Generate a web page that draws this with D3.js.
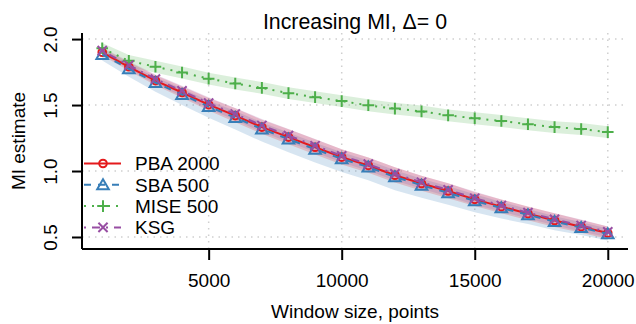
<!DOCTYPE html>
<html>
<head>
<meta charset="utf-8">
<script src="https://cdn.jsdelivr.net/npm/d3@7"></script>
<style>
  body { margin: 0; background: #fff; }
  svg { display: block; font-family: "Liberation Sans", Arial, sans-serif; }
</style>
</head>
<body>
<div id="chart"></div>
<script>
// window sizes (points)
const windowSizes = [1000, 2000, 3000, 4000, 5000, 6000, 7000, 8000, 9000, 10000,
  11000, 12000, 13000, 14000, 15000, 16000, 17000, 18000, 19000, 20000];

// mean MI estimates
const pba2000 = [1.90, 1.79, 1.685, 1.595, 1.503, 1.42, 1.333, 1.257, 1.18, 1.105,
  1.042, 0.968, 0.905, 0.848, 0.785, 0.73, 0.677, 0.625, 0.578, 0.53];
const sba500 = [1.882, 1.775, 1.67, 1.58, 1.488, 1.405, 1.318, 1.242, 1.165, 1.092,
  1.03, 0.955, 0.892, 0.835, 0.773, 0.72, 0.668, 0.617, 0.571, 0.524];
const mise500 = [1.93, 1.835, 1.79, 1.747, 1.70, 1.663, 1.63, 1.59, 1.56, 1.53,
  1.498, 1.473, 1.452, 1.422, 1.40, 1.379, 1.354, 1.333, 1.318, 1.295];
const ksg = [1.912, 1.802, 1.697, 1.607, 1.515, 1.432, 1.345, 1.269, 1.192, 1.115,
  1.052, 0.978, 0.915, 0.857, 0.794, 0.739, 0.685, 0.634, 0.587, 0.539];

// band extent below / above each mean
const pbaBandLow = [0.025, 0.03, 0.035, 0.04, 0.045, 0.05, 0.05, 0.055, 0.055, 0.055,
  0.055, 0.055, 0.055, 0.055, 0.05, 0.05, 0.05, 0.05, 0.045, 0.045];
const pbaBandHigh = [0.03, 0.035, 0.04, 0.045, 0.05, 0.055, 0.055, 0.06, 0.06, 0.06,
  0.06, 0.06, 0.06, 0.06, 0.055, 0.055, 0.055, 0.055, 0.05, 0.05];
const sbaBandLow = [0.045, 0.06, 0.07, 0.08, 0.085, 0.09, 0.095, 0.1, 0.1, 0.1,
  0.1, 0.1, 0.095, 0.09, 0.085, 0.08, 0.07, 0.065, 0.055, 0.05];
const sbaBandHigh = [0.03, 0.035, 0.04, 0.045, 0.045, 0.05, 0.05, 0.05, 0.05, 0.05,
  0.05, 0.05, 0.05, 0.05, 0.05, 0.045, 0.045, 0.04, 0.04, 0.04];
const miseBandLow = [0.04, 0.045, 0.045, 0.045, 0.045, 0.045, 0.045, 0.045, 0.045, 0.045,
  0.045, 0.045, 0.045, 0.045, 0.045, 0.045, 0.045, 0.045, 0.045, 0.045];
const miseBandHigh = [0.04, 0.045, 0.045, 0.045, 0.045, 0.045, 0.045, 0.045, 0.045, 0.045,
  0.045, 0.045, 0.045, 0.045, 0.045, 0.045, 0.045, 0.045, 0.045, 0.045];
const ksgBandLow = [0.025, 0.03, 0.035, 0.04, 0.045, 0.045, 0.05, 0.05, 0.05, 0.05,
  0.05, 0.05, 0.05, 0.05, 0.05, 0.045, 0.045, 0.045, 0.045, 0.04];
const ksgBandHigh = [0.025, 0.03, 0.035, 0.04, 0.045, 0.045, 0.05, 0.05, 0.05, 0.05,
  0.05, 0.05, 0.05, 0.05, 0.05, 0.045, 0.045, 0.045, 0.045, 0.04];

const xTicks = [5000, 10000, 15000, 20000];
const yTicks = [0.5, 1.0, 1.5, 2.0];

const series = [
  { name: 'PBA 2000', values: pba2000, lo: pbaBandLow, hi: pbaBandHigh, color: '#E41A1C', dash: null, shape: 'circle' },
  { name: 'SBA 500', values: sba500, lo: sbaBandLow, hi: sbaBandHigh, color: '#377EB8', dash: '7,7', shape: 'triangle' },
  { name: 'MISE 500', values: mise500, lo: miseBandLow, hi: miseBandHigh, color: '#4DAF4A', dash: '2,6', shape: 'plus' },
  { name: 'KSG', values: ksg, lo: ksgBandLow, hi: ksgBandHigh, color: '#984EA3', dash: '2,6,8,6', shape: 'cross' }
];

const width = 636;
const height = 324;
const plotLeft = 82, plotRight = 628, plotTop = 33, plotBottom = 249;
const fontSize = '19px';

const x = d3.scaleLinear().domain([240, 20760]).range([plotLeft, plotRight]);
const y = d3.scaleLinear().domain([0.409, 2.046]).range([plotBottom, plotTop]);

const svg = d3.select('#chart')
  .append('svg')
  .attr('width', width)
  .attr('height', height);

// grid
svg.append('g')
  .selectAll('line')
  .data(yTicks)
  .join('line')
  .attr('x1', plotLeft).attr('x2', plotRight)
  .attr('y1', d => y(d)).attr('y2', d => y(d))
  .attr('stroke', '#cfcfcf')
  .attr('stroke-width', 1.5)
  .attr('stroke-dasharray', '1.5,5');

svg.append('g')
  .selectAll('line')
  .data(xTicks)
  .join('line')
  .attr('x1', d => x(d)).attr('x2', d => x(d))
  .attr('y1', plotTop).attr('y2', plotBottom)
  .attr('stroke', '#cfcfcf')
  .attr('stroke-width', 1.5)
  .attr('stroke-dasharray', '1.5,5');

// bands
const area = d3.area()
  .x(d => x(d.x))
  .y0(d => y(d.v - d.lo))
  .y1(d => y(d.v + d.hi));

const ribbonOrder = [1, 0, 2, 3];
ribbonOrder.forEach(i => {
  const s = series[i];
  const pts = windowSizes.map((w, j) => ({ x: w, v: s.values[j], lo: s.lo[j], hi: s.hi[j] }));
  svg.append('path')
    .datum(pts)
    .attr('fill', s.color)
    .attr('fill-opacity', 0.2)
    .attr('d', area);
});

const line = d3.line()
  .x(d => x(d.x))
  .y(d => y(d.v));

function marker(g, shape, color) {
  const common = sel => sel.attr('fill', 'none').attr('stroke', color).attr('stroke-width', 2);
  if (shape === 'circle') {
    g.append('circle').attr('r', 3.8).call(common);
  } else if (shape === 'triangle') {
    g.append('path').attr('d', 'M0,-5.6L5.8,4.4L-5.8,4.4Z').call(common);
  } else if (shape === 'plus') {
    g.append('path').attr('d', 'M-5.8,0H5.8M0,-5.8V5.8').call(common);
  } else {
    g.append('path').attr('d', 'M-4.6,-4.6L4.6,4.6M-4.6,4.6L4.6,-4.6').call(common);
  }
}

series.forEach(s => {
  const pts = windowSizes.map((w, j) => ({ x: w, v: s.values[j] }));
  const path = svg.append('path')
    .datum(pts)
    .attr('fill', 'none')
    .attr('stroke', s.color)
    .attr('stroke-width', 2)
    .attr('d', line);
  if (s.dash) path.attr('stroke-dasharray', s.dash);

  pts.forEach(p => {
    const g = svg.append('g').attr('transform', `translate(${x(p.x)},${y(p.v)})`);
    marker(g, s.shape, s.color);
  });
});

// axes
const xAxis = svg.append('g')
  .attr('transform', `translate(0,${plotBottom})`)
  .call(d3.axisBottom(x).tickValues(xTicks).tickFormat(d3.format('d'))
    .tickSize(11).tickSizeOuter(0).tickPadding(14));
xAxis.select('.domain').attr('d', `M${plotLeft},0H${plotRight}`).attr('stroke-width', 2);
xAxis.selectAll('.tick line').attr('stroke-width', 2);
xAxis.selectAll('text').style('font-size', fontSize).attr('font-family', null);

const yAxis = svg.append('g')
  .attr('transform', `translate(${plotLeft},0)`)
  .call(d3.axisLeft(y).tickValues(yTicks).tickFormat(d3.format('.1f')).tickSize(10).tickSizeOuter(0));
yAxis.select('.domain').attr('d', `M0,${plotTop}V${plotBottom}`).attr('stroke-width', 2);
yAxis.selectAll('.tick line').attr('stroke-width', 2);
yAxis.selectAll('text')
  .attr('x', null).attr('dy', null)
  .attr('transform', 'translate(-30,0) rotate(-90)')
  .attr('text-anchor', 'middle')
  .attr('dominant-baseline', 'middle')
  .attr('font-family', null)
  .style('font-size', fontSize);

// title and axis labels
svg.append('text')
  .attr('x', (plotLeft + plotRight) / 2)
  .attr('y', 29)
  .attr('text-anchor', 'middle')
  .style('font-size', '21.3px')
  .text('Increasing MI, Δ= 0');

svg.append('text')
  .attr('x', (plotLeft + plotRight) / 2)
  .attr('y', 318)
  .attr('text-anchor', 'middle')
  .style('font-size', fontSize)
  .text('Window size, points');

svg.append('text')
  .attr('transform', `translate(25,${(plotTop + plotBottom) / 2}) rotate(-90)`)
  .attr('text-anchor', 'middle')
  .style('font-size', fontSize)
  .text('MI estimate');

// legend
const legend = svg.append('g');
series.forEach((s, i) => {
  const ly = 163.5 + i * 21.3;
  const ln = legend.append('line')
    .attr('x1', 84).attr('x2', 121)
    .attr('y1', ly).attr('y2', ly)
    .attr('stroke', s.color)
    .attr('stroke-width', 2);
  if (s.dash) ln.attr('stroke-dasharray', s.dash);
  const g = legend.append('g').attr('transform', `translate(103,${ly})`);
  marker(g, s.shape, s.color);
  legend.append('text')
    .attr('x', 135)
    .attr('y', ly + 6.8)
    .style('font-size', fontSize)
    .text(s.name);
});
</script>
</body>
</html>
